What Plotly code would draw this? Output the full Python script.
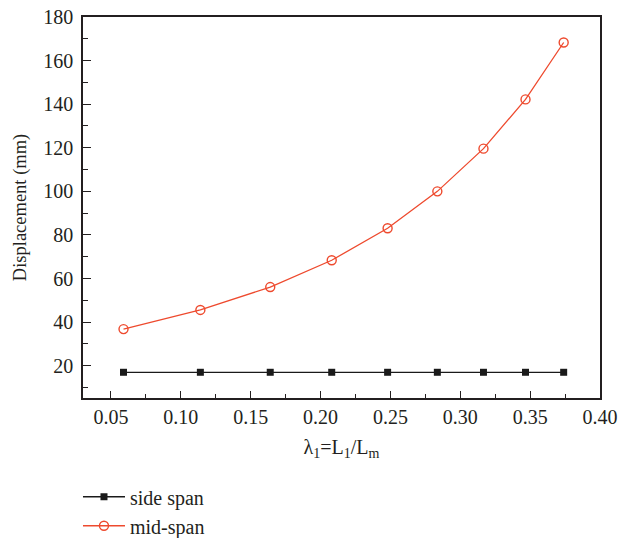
import plotly.graph_objects as go

lam = [0.059, 0.114, 0.164, 0.208, 0.248, 0.2836, 0.3166, 0.3467, 0.374]
side_span = [17.0, 17.0, 17.0, 17.0, 17.0, 17.0, 17.0, 17.0, 17.0]
mid_span = [36.8, 45.6, 56.1, 68.4, 83.1, 100.0, 119.6, 142.2, 168.3]
x_ticks = [0.05, 0.10, 0.15, 0.20, 0.25, 0.30, 0.35, 0.40]
y_ticks = [20, 40, 60, 80, 100, 120, 140, 160, 180]

FONT = "Liberation Serif"
RED = "#EE4A2E"
INK = "#231f20"

fig = go.Figure()
fig.add_trace(go.Scatter(x=lam, y=side_span, mode="lines+markers", name="side span",
                         line=dict(color="#1a1a1a", width=1.3),
                         marker=dict(symbol="square", size=7, color="#1a1a1a")))
fig.add_trace(go.Scatter(x=lam, y=mid_span, mode="lines+markers", name="mid-span",
                         line=dict(color=RED, width=1.3),
                         marker=dict(symbol="circle-open", size=9, color=RED, line=dict(width=1.4))))

fig.update_layout(
    width=618, height=538,
    margin=dict(l=83, r=18, t=17, b=140, autoexpand=False),
    plot_bgcolor="white", paper_bgcolor="white",
    font=dict(family=FONT, size=20, color=INK),
    showlegend=True,
    legend=dict(x=-0.0097, y=-0.208, xanchor="left", yanchor="top",
                font=dict(family=FONT, size=20), tracegroupgap=0, itemwidth=42,
                bgcolor="rgba(0,0,0,0)"),
    xaxis=dict(range=[0.03, 0.40], tickvals=x_ticks, ticktext=[f"{v:.2f}" for v in x_ticks],
               automargin=False, ticklabeloverflow="allow",
               showgrid=False, zeroline=False, showline=True, linecolor=INK, linewidth=1.5,
               mirror=True, ticks="inside", ticklen=7, tickwidth=1.2, tickcolor=INK,
               minor=dict(ticks="inside", ticklen=4, tickwidth=1.2, tickcolor=INK, dtick=0.025, tick0=0.025),
               ticklabelstandoff=0,
               title=dict(text="λ<sub>1</sub>=L<sub>1</sub>/L<sub>m</sub>", font=dict(size=20), standoff=13),
               tickfont=dict(size=20)),
    yaxis=dict(range=[5.2, 180], tickvals=y_ticks,
               automargin=False, ticklabeloverflow="allow",
               showgrid=False, zeroline=False, showline=True, linecolor=INK, linewidth=1.5,
               mirror=True, ticks="inside", ticklen=8, tickwidth=1.2, tickcolor=INK,
               minor=dict(ticks="inside", ticklen=5, tickwidth=1.2, tickcolor=INK, dtick=10, tick0=0),
               ticklabelstandoff=4,
               title=dict(text="Displacement (mm)", font=dict(size=18.5), standoff=12),
               tickfont=dict(size=20)),
)

page_fit = ("document.documentElement.style.margin='0';document.body.style.margin='0';"
            "document.documentElement.style.overflow='hidden';document.body.style.overflow='hidden';")
fig.write_html("out.html", post_script=page_fit, config={"displayModeBar": False})
